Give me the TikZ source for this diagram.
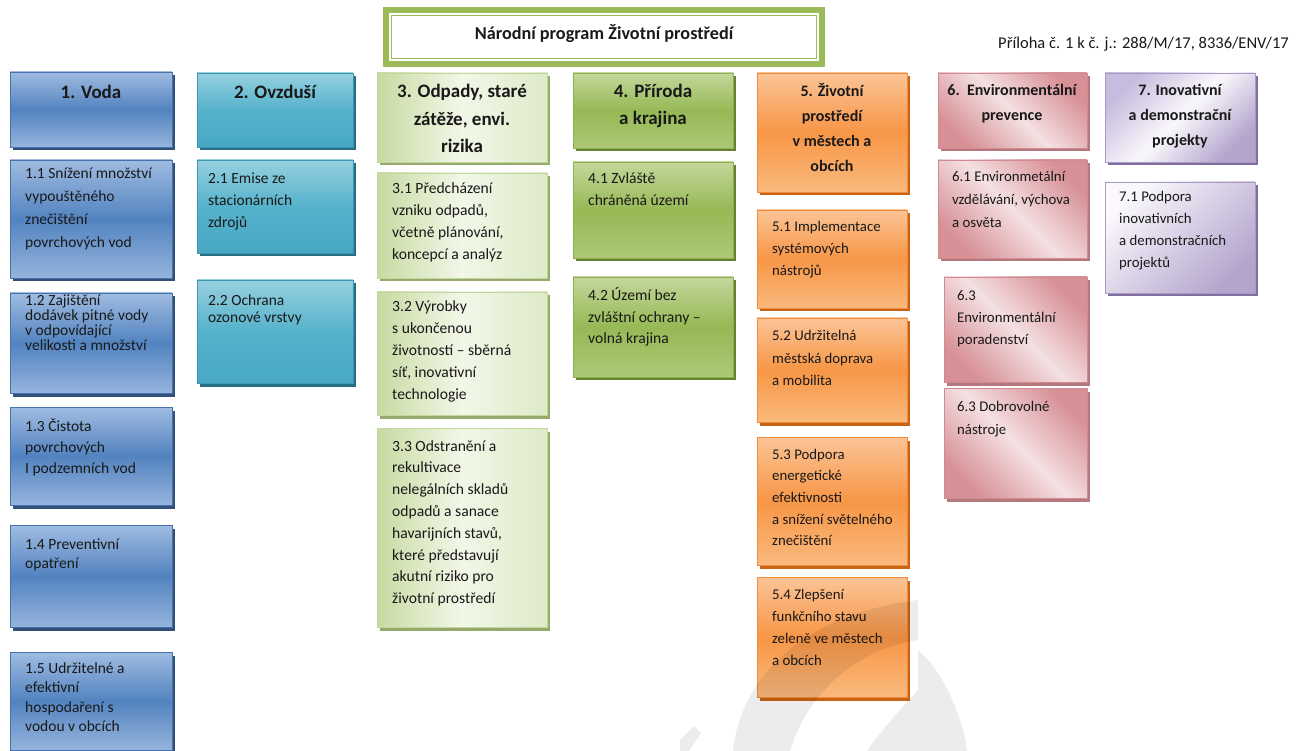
\documentclass[tikz,border=0pt]{standalone}
\usepackage{fontspec}
\setmainfont{Carlito}
\definecolor{txt}{RGB}{25,25,25}
\definecolor{tgreen}{RGB}{155,187,89}
% blue
\definecolor{bT}{RGB}{160,188,225}\definecolor{bM}{RGB}{82,131,192}\definecolor{bB}{RGB}{150,180,220}
\definecolor{bD}{RGB}{70,115,175}\definecolor{bS}{RGB}{50,80,120}
% teal
\definecolor{tT}{RGB}{150,208,224}\definecolor{tM}{RGB}{85,178,203}\definecolor{tB}{RGB}{72,168,196}
\definecolor{tD}{RGB}{60,150,178}\definecolor{tS}{RGB}{40,110,130}
% light green
\definecolor{lL}{RGB}{200,218,162}\definecolor{lM}{RGB}{242,247,232}\definecolor{lR}{RGB}{222,234,200}
\definecolor{lD}{RGB}{195,214,155}\definecolor{lS}{RGB}{150,170,110}
% green
\definecolor{gT}{RGB}{195,215,155}\definecolor{gM}{RGB}{150,185,85}\definecolor{gB}{RGB}{172,200,118}
\definecolor{gD}{RGB}{140,175,80}\definecolor{gS}{RGB}{100,130,50}
% orange
\definecolor{oT}{RGB}{251,196,150}\definecolor{oM}{RGB}{247,150,70}\definecolor{oB}{RGB}{250,185,125}
\definecolor{oD}{RGB}{240,140,60}\definecolor{oS}{RGB}{200,100,20}
% pink
\definecolor{pK}{RGB}{215,145,150}\definecolor{pL}{RGB}{244,224,226}
\definecolor{pD}{RGB}{210,140,145}\definecolor{pS}{RGB}{180,120,125}
% lavender
\definecolor{vL}{RGB}{250,248,252}\definecolor{vR}{RGB}{180,165,205}\definecolor{vH}{RGB}{200,188,222}
\definecolor{vD}{RGB}{170,155,195}\definecolor{vS}{RGB}{130,110,160}
\tikzset{
  bx/.style={line width=0.6pt, inner sep=0pt, outer sep=0pt, anchor=north west},
  famA/.style={draw=bD, top color=bT, bottom color=bB, middle color=bM},
  famAsh/.style={fill=bS},
  famB/.style={draw=tD, top color=tT, bottom color=tB, middle color=tM},
  famBsh/.style={fill=tS},
  famC/.style={draw=lD, left color=lL, right color=lR, middle color=lM},
  famCsh/.style={fill=lS},
  famD/.style={draw=gD, top color=gT, bottom color=gB, middle color=gM},
  famDsh/.style={fill=gS},
  famE/.style={draw=oD, top color=oT, bottom color=oB, middle color=oM},
  famEsh/.style={fill=oS},
  famF/.style={draw=pD, left color=pK, right color=pK, middle color=pL, shading angle=135},
  famFsh/.style={fill=pS},
  famG/.style={draw=vD, left color=vL, right color=vR, shading angle=45},
  famGsh/.style={fill=vS},
  famH/.style={draw=vD, left color=vH, right color=vR, middle color=vL, shading angle=45},
  famHsh/.style={fill=vS},
  wmark/.style={fill=black, fill opacity=0.075},
}
% name x1 y1 x2 y2 family
\newcommand\pbox[6]{%
  \fill[#6sh] (#2+2.5,#3+3.5) rectangle (#4+2.5,#5+3.5);
  \node[#6, bx, minimum width={#4-#2}, minimum height={#5-#3}] (#1) at (#2,#3) {};}
% body text: name x baseline size skip text
\newcommand\btx[6]{%
  \node[anchor=base west, inner sep=0pt, text=txt, font=\fontsize{#4}{#5}\selectfont] (#1) at (#2,#3) {\parbox[t]{190pt}{#6}};}
% header text: name xc baseline size skip text
\newcommand\htx[6]{%
  \node[anchor=base, inner sep=0pt, text=txt, font=\bfseries\fontsize{#4}{#5}\selectfont] (#1) at (#2,#3) {\parbox[t]{190pt}{\centering #6}};}
\begin{document}
\begin{tikzpicture}[x=1pt,y=-1pt]
\useasboundingbox[fill=white] (0,0) rectangle (1299,751);

% title
\fill[tgreen] (383,7) rectangle (825,67);
\fill[white] (389,13) rectangle (819,61);
\draw[tgreen, line width=1.3pt] (391.5,15.5) rectangle (816.5,58.5);
\node[anchor=base, inner sep=0pt, text=txt, font=\bfseries\fontsize{18.2}{20}\selectfont] (title) at (604,40) {Národní program Životní prostředí};
\node[anchor=base east, inner sep=0pt, text=txt, font=\fontsize{16.5}{18}\selectfont] (priloha) at (1289,49) {Příloha č. 1 k č. j.: 288/M/17, 8336/ENV/17};

% column 1
\pbox{h1}{10}{72}{172}{147}{famA}
\htx{h1t}{91}{99}{19}{27}{1. Voda}
\pbox{b11}{10}{160}{172}{278}{famA}
\btx{b11t}{25}{179}{15.5}{23}{1.1 Snížení množství\\vypouštěného\\znečištění\\povrchových vod}
\pbox{b12}{10}{293}{172}{393}{famA}
\btx{b12t}{25}{306}{15.5}{15}{1.2 Zajištění\\dodávek pitné vody\\v odpovídající\\velikosti a množství}
\pbox{b13}{10}{407}{172}{505}{famA}
\btx{b13t}{25}{431}{15.5}{21}{1.3 Čistota\\povrchových\\I podzemních vod}
\pbox{b14}{10}{525}{172}{627}{famA}
\btx{b14t}{25}{549}{15.5}{19}{1.4 Preventivní\\opatření}
\pbox{b15}{10}{652}{172}{750}{famA}
\btx{b15t}{25}{673}{15.5}{19.5}{1.5 Udržitelné a\\efektivní\\hospodaření s\\vodou v obcích}

% column 2
\pbox{h2}{197}{73}{353}{147}{famB}
\htx{h2t}{275}{99}{19}{27}{2. Ovzduší}
\pbox{b21}{197}{160}{353}{253}{famB}
\btx{b21t}{208}{184}{15.5}{22}{2.1 Emise ze\\stacionárních\\zdrojů}
\pbox{b22}{197}{280}{353}{383}{famB}
\btx{b22t}{208}{306}{15.5}{16.5}{2.2 Ochrana\\ozonové vrstvy}

% column 3
\pbox{h3}{377}{73}{547}{162}{famC}
\htx{h3t}{462}{98}{19}{27.5}{3. Odpady, staré\\zátěže, envi.\\rizika}
\pbox{b31}{377}{173}{547}{278}{famC}
\btx{b31t}{392}{194}{15.6}{22}{3.1 Předcházení\\vzniku odpadů,\\včetně plánování,\\koncepcí a analýz}
\pbox{b32}{377}{292}{547}{415}{famC}
\btx{b32t}{392}{312}{15.6}{22}{3.2 Výrobky\\s ukončenou\\životností – sběrná\\síť, inovativní\\technologie}
\pbox{b33}{377}{428}{547}{627}{famC}
\btx{b33t}{392}{451}{15.6}{21.8}{3.3 Odstranění a\\rekultivace\\nelegálních skladů\\odpadů a sanace\\havarijních stavů,\\které představují\\akutní riziko pro\\životní prostředí}

% column 4
\pbox{h4}{573}{73}{733}{148}{famD}
\htx{h4t}{653}{98}{19}{27}{4. Příroda\\a krajina}
\pbox{b41}{573}{162}{733}{258}{famD}
\btx{b41t}{588}{184}{15.6}{22}{4.1 Zvláště\\chráněná území}
\pbox{b42}{573}{277}{733}{377}{famD}
\btx{b42t}{588}{301}{15.6}{21.5}{4.2 Území bez\\zvláštní ochrany –\\volná krajina}

% column 5
\pbox{h5}{757}{73}{907}{192}{famE}
\htx{h5t}{832}{97}{16}{24.7}{5. Životní\\prostředí\\v městech a\\obcích}
\pbox{b51}{757}{210}{907}{308}{famE}
\btx{b51t}{772}{232}{14.8}{22}{5.1 Implementace\\systémových\\nástrojů}
\pbox{b52}{757}{318}{907}{422}{famE}
\btx{b52t}{772}{341}{14.8}{22.5}{5.2 Udržitelná\\městská doprava\\a mobilita}
\pbox{b53}{757}{437}{907}{565}{famE}
\btx{b53t}{772}{459}{14.8}{21.7}{5.3 Podpora\\energetické\\efektivnosti\\a snížení světelného\\znečištění}
\pbox{b54}{757}{577}{907}{697}{famE}
\btx{b54t}{772}{599}{14.8}{22}{5.4 Zlepšení\\funkčního stavu\\zeleně ve městech\\a obcích}

% column 6
\pbox{h6}{938}{73}{1087}{148}{famF}
\htx{h6t}{1012}{96}{16}{25}{6.\ \ Environmentální\\prevence}
\pbox{b61}{938}{160}{1087}{258}{famF}
\btx{b61t}{952}{182}{14.8}{23}{6.1 Environmetální\\vzdělávání, výchova\\a osvěta}
\pbox{b63a}{944}{277}{1087}{382}{famF}
\btx{b63at}{957}{301}{14.8}{22}{6.3\\Environmentální\\poradenství}
\pbox{b63b}{944}{388}{1087}{498}{famF}
\btx{b63bt}{957}{411}{14.8}{23}{6.3 Dobrovolné\\nástroje}

% column 7
\pbox{h7}{1105}{73}{1255}{162}{famH}
\htx{h7t}{1180}{96}{16}{25}{7. Inovativní\\a demonstrační\\projekty}
\pbox{b71}{1105}{182}{1255}{293}{famG}
\btx{b71t}{1119}{202}{14.8}{22}{7.1 Podpora\\inovativních\\a demonstračních\\projektů}

% faint watermark
\fill[wmark] (733,751) .. controls (740,680) and (800,615) .. (918,600) -- (918,640) .. controls (850,650) and (805,700) .. (790,751) -- cycle;
\fill[wmark] (867,751) .. controls (885,725) and (905,705) .. (918,690) -- (918,650) .. controls (940,668) and (962,712) .. (967,751) -- cycle;
\fill[wmark] (680,751) -- (680,740) -- (694,726) -- (701,733) -- (689,751) -- cycle;
\end{tikzpicture}
\end{document}
